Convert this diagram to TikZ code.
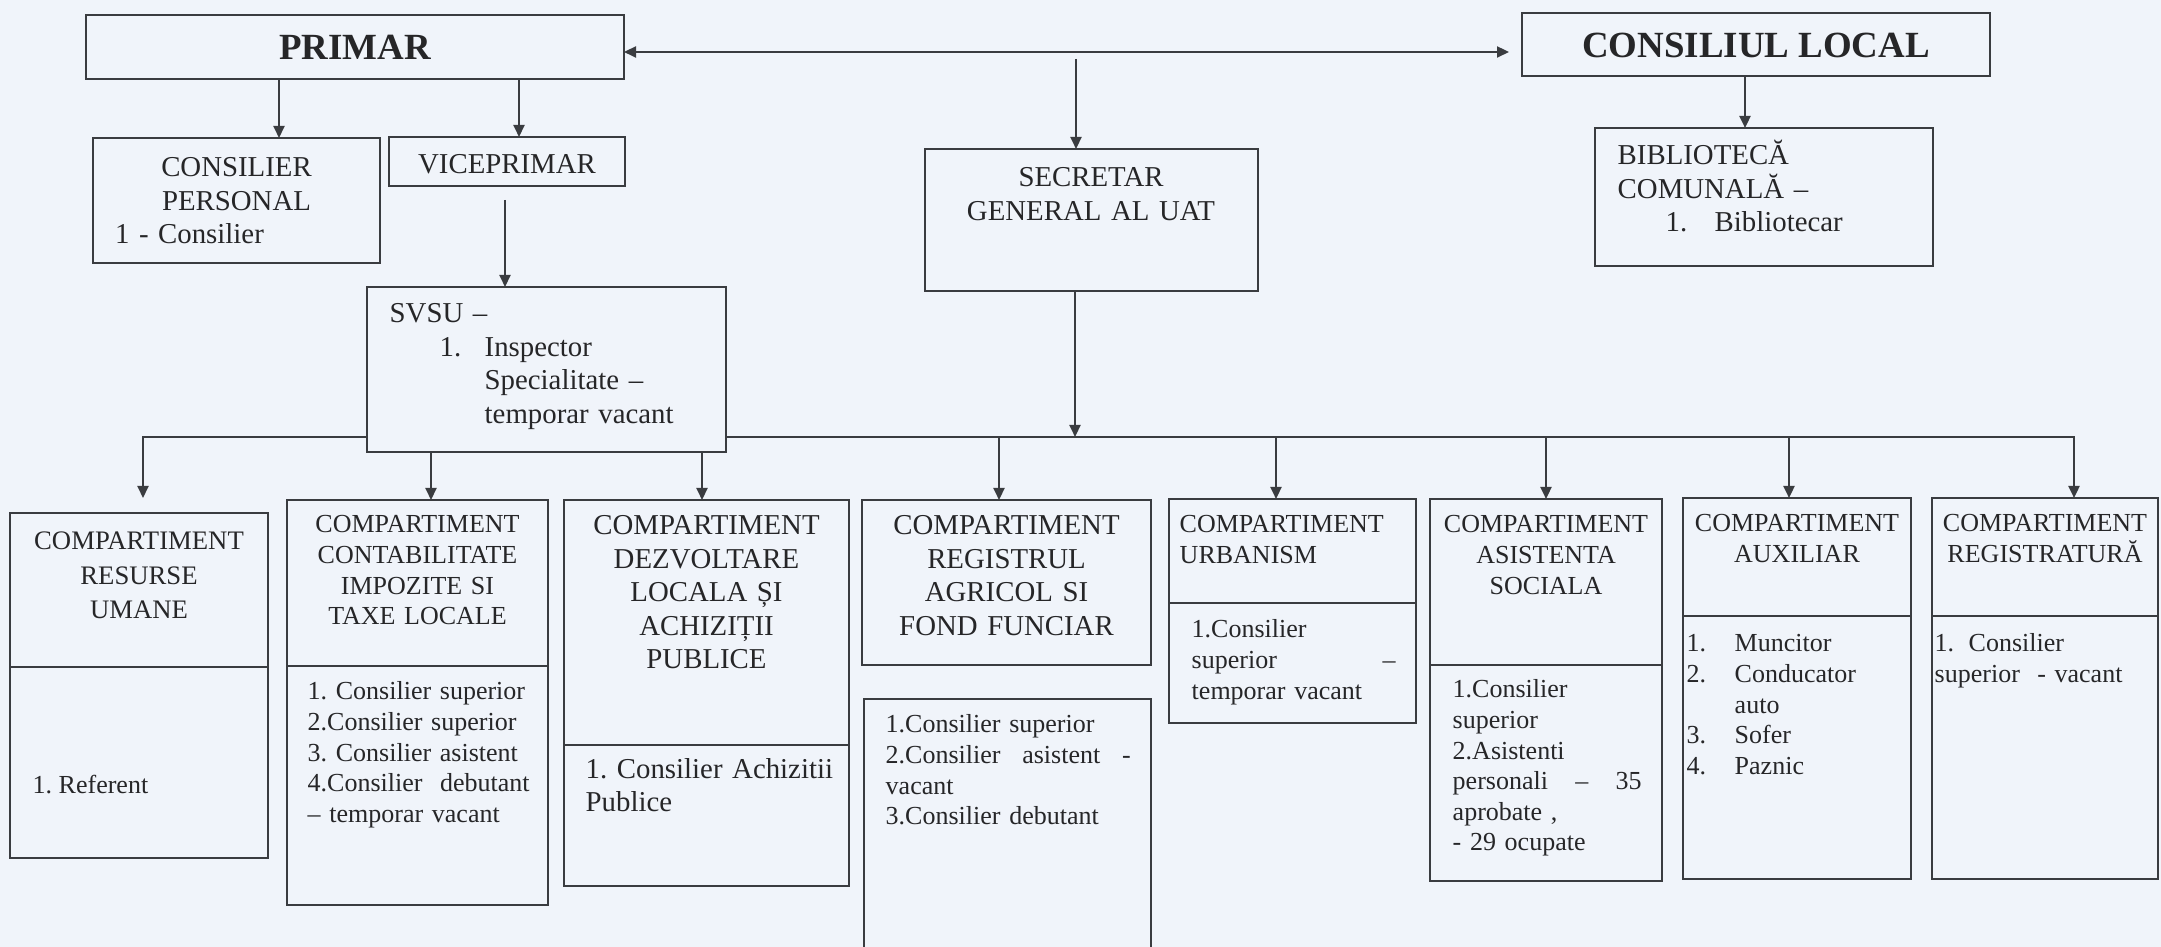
\documentclass[tikz,border=0pt]{standalone}
\usepackage{fontspec}
\setmainfont{Liberation Serif}
\usetikzlibrary{arrows.meta}
\definecolor{bgc}{RGB}{240,244,250}
\definecolor{lnc}{RGB}{58,60,64}
\definecolor{txc}{RGB}{38,38,40}
\newcommand{\obox}[5]{\node[boxst, minimum width={(#4-#2)*0.1mm}, minimum height={(#5-#3)*0.1mm}] (#1) at ({(#2+#4)/2},{(#3+#5)/2}) {};}
\newcommand{\jline}[1]{\leavevmode\hbox to\linewidth{#1}}
\begin{document}
\frenchspacing
\hyphenpenalty=10000
\exhyphenpenalty=10000
\begin{tikzpicture}[x=0.1mm, y=-0.1mm,
  boxst/.style={draw=lnc, line width=0.65pt, fill=bgc, inner sep=0pt, outer sep=0pt},
  ln/.style={draw=lnc, line width=0.6pt},
  dv/.style={draw=lnc, line width=0.65pt},
  tip/.tip={Triangle[length=1.2mm,width=1.1mm]},
  arr/.style={ln, -tip},
  big/.style={inner sep=0pt, text=txc, font=\fontsize{8.2}{9.5}\selectfont},
  mid/.style={inner sep=0pt, text=txc, font=\fontsize{7.6}{9.8}\selectfont},
  sml/.style={inner sep=0pt, text=txc, font=\fontsize{7.4}{8.7}\selectfont},
  ttl/.style={inner sep=0pt, text=txc, font=\fontsize{10.5}{12}\selectfont\bfseries},
]
\fill[bgc] (0,0) rectangle (2161,947);
\useasboundingbox (0,0) rectangle (2161,947);

% boxes
\obox{primar}{86}{15}{624}{79}
\obox{cl}{1522}{13}{1990}{76}
\obox{cp}{93}{138}{380}{263}
\obox{vp}{389}{137}{625}{186}
\obox{sec}{925}{149}{1258}{291}
\obox{bib}{1595}{128}{1933}{266}
\obox{svsu}{367}{287}{726}{452}
\obox{ru}{10}{513}{268}{858}
\obox{contab}{287}{500}{548}{905}
\obox{dezv}{564}{500}{849}{886}
\obox{regagr}{862}{500}{1151}{665}
\node[fill=bgc, draw=none, inner sep=0pt, outer sep=0pt, minimum width=28.7mm, minimum height=25mm] (regagrb) at (1007.5,824) {};
\draw[dv] (regagrb.south west) -- (regagrb.north west) -- (regagrb.north east) -- (regagrb.south east);
\obox{urb}{1169}{499}{1416}{723}
\obox{asist}{1430}{499}{1662}{881}
\obox{aux}{1683}{498}{1911}{879}
\obox{reg}{1932}{498}{2158}{879}

% dividers
\draw[dv] (ru.west |- 0,667) -- (ru.east |- 0,667);
\draw[dv] (contab.west |- 0,666) -- (contab.east |- 0,666);
\draw[dv] (dezv.west |- 0,745) -- (dezv.east |- 0,745);
\draw[dv] (urb.west |- 0,603) -- (urb.east |- 0,603);
\draw[dv] (asist.west |- 0,665) -- (asist.east |- 0,665);
\draw[dv] (aux.west |- 0,616) -- (aux.east |- 0,616);
\draw[dv] (reg.west |- 0,616) -- (reg.east |- 0,616);

% texts
\node[ttl, anchor=base] (tprimar) at (355,60) {PRIMAR};
\node[ttl, anchor=base] (tcl) at (1756,58) {CONSILIUL LOCAL};
\node[big, anchor=base] (tvp) at (507,174) {VICEPRIMAR};
\node[big, text width=24.3mm, align=center, anchor=base] (tcp) at (236.5,177) {CONSILIER\\PERSONAL\\\makebox[\linewidth][l]{1 - Consilier}};
\node[big, text width=30mm, align=center, anchor=base] (tsec) at (1091,187) {SECRETAR\\GENERAL AL UAT};
\node[big, text width=30mm, align=left, anchor=base west] (tbib) at (1617,165) {BIBLIOTECĂ\\COMUNALĂ –\\\hspace*{4.8mm}\makebox[4.9mm][l]{1.}Bibliotecar};
\node[big, text width=33mm, align=left, anchor=base west] (tsvsu) at (389,323) {SVSU –\\\hspace*{5mm}\makebox[4.5mm][l]{1.}Inspector\\\hspace*{9.5mm}Specialitate –\\\hspace*{9.5mm}temporar vacant};

\node[mid, text width=25mm, align=center, anchor=base] (tru) at (139,550) {COMPARTIMENT\\RESURSE\\UMANE};
\node[sml, anchor=base west] (tru2) at (32,793) {1. Referent};

\node[sml, text width=25mm, align=center, anchor=base] (tct) at (417.5,533) {COMPARTIMENT\\CONTABILITATE\\IMPOZITE SI\\TAXE LOCALE};
\node[sml, text width=22.2mm, align=left, anchor=base west] (tct2) at (307,700) {1. Consilier superior\\2.Consilier superior\\3. Consilier asistent\\\jline{4.Consilier \hfill debutant}\\– temporar vacant};

\node[big, text width=27mm, align=center, anchor=base] (tdz) at (706.5,535) {COMPARTIMENT\\DEZVOLTARE\\LOCALA ȘI\\ACHIZIȚII\\PUBLICE};
\node[big, text width=24.4mm, align=left, anchor=base west] (tdz2) at (585,778) {\jline{1. Consilier \hfill Achizitii}\\Publice};

\node[big, text width=27mm, align=center, anchor=base] (trg) at (1006.5,535) {COMPARTIMENT\\REGISTRUL\\AGRICOL SI\\FOND FUNCIAR};
\node[sml, text width=24.5mm, align=left, anchor=base west] (trg2) at (885,733) {1.Consilier superior\\\jline{2.Consilier \hfill asistent \hfill -}\\vacant\\3.Consilier debutant};

\node[sml, text width=23mm, align=left, anchor=base west] (tur) at (1179,533) {COMPARTIMENT\\URBANISM};
\node[sml, text width=20.4mm, align=left, anchor=base west] (tur2) at (1191,638) {1.Consilier\\\jline{superior \hfill –}\\temporar vacant};

\node[sml, text width=22mm, align=center, anchor=base] (tas) at (1546,533) {COMPARTIMENT\\ASISTENTA\\SOCIALA};
\node[sml, text width=18.9mm, align=left, anchor=base west] (tas2) at (1452,698) {1.Consilier\\superior\\2.Asistenti\\\jline{personali \hfill – \hfill 35}\\aprobate ,\\- 29 ocupate};

\node[sml, text width=22mm, align=center, anchor=base] (tax) at (1797,532) {COMPARTIMENT\\AUXILIAR};
\node[sml, text width=22mm, align=left, anchor=base west] (tax2) at (1686,652) {\makebox[4.8mm][l]{1.}Muncitor\\\makebox[4.8mm][l]{2.}Conducator\\\hspace*{4.8mm}auto\\\makebox[4.8mm][l]{3.}Sofer\\\makebox[4.8mm][l]{4.}Paznic};

\node[sml, text width=22mm, align=center, anchor=base] (trr) at (2045,532) {COMPARTIMENT\\REGISTRATURĂ};
\node[sml, text width=22mm, align=left, anchor=base west] (trr2) at (1934,652) {\makebox[3.4mm][l]{1.}Consilier\\superior\ \ - vacant};

% connectors
\draw[ln, tip-tip, shorten >=1.3mm] (primar.east |- 0,52) -- (cl.west |- 0,52);
\coordinate (secin) at (1076,59);
\draw[arr] (secin) -- (sec.north -| secin);
\draw[arr] (primar.south -| 279,0) -- (cp.north -| 279,0);
\draw[arr] (primar.south -| 519,0) -- (vp.north -| 519,0);
\coordinate (vpout) at (505,200);
\draw[arr] (vpout) -- (svsu.north -| vpout);
\draw[arr] (cl.south -| 1745,0) -- (bib.north -| 1745,0);
\coordinate (bj) at (1075,437);
\draw[arr] (sec.south -| bj) -- (bj);
\draw[arr, shorten >=1.5mm] (svsu.west |- bj) -| (ru.north -| 143,0);
\draw[arr] (svsu.east |- bj) -| (reg.north -| 2074,0);
\draw[arr] (svsu.south -| 431,0) -- (contab.north -| 431,0);
\draw[arr] (svsu.south -| 702,0) -- (dezv.north -| 702,0);
\draw[arr] (bj -| 999,0) -- (regagr.north -| 999,0);
\draw[arr] (bj -| 1276,0) -- (urb.north -| 1276,0);
\draw[arr] (bj -| 1546,0) -- (asist.north -| 1546,0);
\draw[arr] (bj -| 1789,0) -- (aux.north -| 1789,0);
\end{tikzpicture}
\end{document}
